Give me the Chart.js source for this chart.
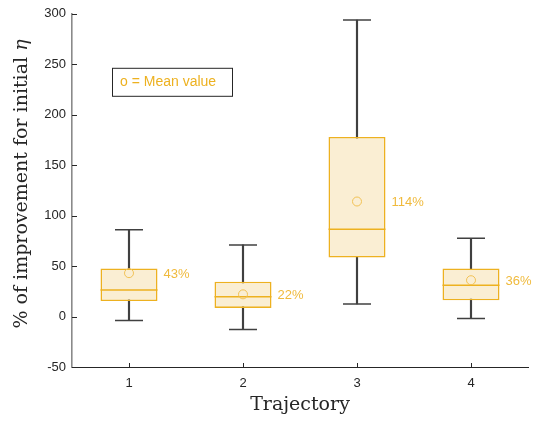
<!DOCTYPE html>
<html>
<head>
<meta charset="utf-8">
<script src="https://cdn.jsdelivr.net/npm/chart.js@4.4.0/dist/chart.umd.min.js"></script>
<style>
  html, body { margin: 0; padding: 0; background: #fff; }
  #wrap { width: 537px; height: 423px; }
</style>
</head>
<body>
<div id="wrap"><canvas id="boxChart"></canvas></div>
<script>
// values
const trajectories = ['1', '2', '3', '4'];
const whiskerLow  = [-4, -12.8, 12.4, -2];
const quartile1   = [15.4, 8.5, 58.5, 16.1];
const medians     = [26.3, 19.7, 86.4, 30.9];
const quartile3   = [47.6, 34.5, 178, 47.6];
const whiskerHigh = [86.1, 71, 293.8, 77.5];
const means       = [43, 22, 114, 36];
const yMin = -50, yMax = 300, yStep = 50;

const ORANGE = '#EDB120';
const DARK = '#404040';
const TEXT = '#262626';

// box plot bits that chart.js doesn't draw itself
const extras = {
  id: 'extras',
  afterDraw(chart) {
    const { ctx, chartArea, scales: { x, y } } = chart;
    ctx.save();

    // tick marks point inward like matlab
    ctx.strokeStyle = TEXT;
    ctx.lineWidth = 1;
    y.ticks.forEach((t, i) => {
      const py = Math.round(y.getPixelForTick(i)) + 0.5;
      ctx.beginPath();
      ctx.moveTo(chartArea.left, py);
      ctx.lineTo(chartArea.left + 5, py);
      ctx.stroke();
    });
    x.ticks.forEach((t, i) => {
      const px = Math.round(x.getPixelForTick(i)) + 0.5;
      ctx.beginPath();
      ctx.moveTo(px, chartArea.bottom);
      ctx.lineTo(px, chartArea.bottom - 4);
      ctx.stroke();
    });

    // mean percentages next to the boxes
    const boxes = chart.getDatasetMeta(1).data;
    ctx.fillStyle = '#F0BA3C';
    ctx.font = '13px "Liberation Sans", Arial, sans-serif';
    ctx.textAlign = 'left';
    ctx.textBaseline = 'middle';
    means.forEach((m, i) => {
      const px = boxes[i].x + boxes[i].width / 2 + 6;
      ctx.fillText(Math.round(m) + '%', px, y.getPixelForValue(m) + 1);
    });

    // "legend" box
    const lx = chartArea.left + 40, ly = chartArea.top + 54;
    ctx.fillStyle = '#fff';
    ctx.fillRect(lx, ly, 121, 28);
    ctx.strokeStyle = TEXT;
    ctx.strokeRect(lx + 0.5, ly + 0.5, 120, 28);
    ctx.fillStyle = ORANGE;
    ctx.font = '14px "Liberation Sans", Arial, sans-serif';
    ctx.fillText('o = Mean value', lx + 8, ly + 14.5);

    // axis titles (serif, latex-ish)
    ctx.fillStyle = TEXT;
    ctx.font = '19px "DejaVu Serif", serif';
    ctx.textAlign = 'center';
    ctx.fillText('Trajectory', (chartArea.left + chartArea.right) / 2, 405);

    ctx.translate(22, 184);
    ctx.rotate(-Math.PI / 2);
    const main = '% of improvement for initial ';
    const mainW = ctx.measureText(main).width;
    ctx.font = 'italic 19px "DejaVu Serif", serif';
    const etaW = ctx.measureText('η').width;
    const start = -(mainW + etaW) / 2;
    ctx.textAlign = 'left';
    ctx.fillText('η', start + mainW, 0);
    ctx.font = '19px "DejaVu Serif", serif';
    ctx.fillText(main, start, 0);

    ctx.restore();
  }
};

const ctx = document.getElementById('boxChart').getContext('2d');
new Chart(ctx, {
  type: 'bar',
  data: {
    labels: trajectories,
    datasets: [
      {
        // whisker stems
        data: whiskerLow.map((lo, i) => [lo, whiskerHigh[i]]),
        backgroundColor: DARK,
        barThickness: 1.5,
        grouped: false,
        order: 5
      },
      {
        // boxes q1..q3
        data: quartile1.map((q, i) => [q, quartile3[i]]),
        backgroundColor: '#FAEED3',
        borderColor: ORANGE,
        borderWidth: 1.6,
        borderSkipped: false,
        barPercentage: 0.5,
        categoryPercentage: 1,
        grouped: false,
        order: 4
      },
      {
        type: 'line',
        data: medians,
        showLine: false,
        pointStyle: 'line',
        pointRadius: 28.5,
        borderColor: ORANGE,
        borderWidth: 1.5,
        order: 3
      },
      {
        type: 'line',
        data: whiskerHigh,
        showLine: false,
        pointStyle: 'line',
        pointRadius: 14,
        borderColor: DARK,
        borderWidth: 1.5,
        order: 3
      },
      {
        type: 'line',
        data: whiskerLow,
        showLine: false,
        pointStyle: 'line',
        pointRadius: 14,
        borderColor: DARK,
        borderWidth: 1.5,
        order: 3
      },
      {
        type: 'line',
        data: means,
        showLine: false,
        pointStyle: 'circle',
        pointRadius: 4.5,
        backgroundColor: 'rgba(0,0,0,0)',
        borderColor: '#F2C255',
        borderWidth: 1,
        order: 2
      }
    ]
  },
  options: {
    responsive: true,
    maintainAspectRatio: false,
    animation: false,
    events: [],
    layout: { autoPadding: false, padding: { top: 12, right: 9, left: 0, bottom: 0 } },
    plugins: {
      legend: { display: false },
      tooltip: { enabled: false }
    },
    scales: {
      x: {
        offset: true,
        afterFit(scale) { scale.height = 56; },
        grid: { display: false, drawTicks: false },
        border: { display: true, color: TEXT, width: 1 },
        ticks: {
          color: TEXT,
          padding: 9,
          font: { family: '"Liberation Sans", Arial, sans-serif', size: 13 }
        }
      },
      y: {
        min: yMin,
        max: yMax,
        afterFit(scale) { scale.width = 72; },
        grid: { display: false, drawTicks: false },
        border: { display: true, color: '#8a8a8a', width: 1.6 },
        ticks: {
          stepSize: yStep,
          color: TEXT,
          padding: 6,
          font: { family: '"Liberation Sans", Arial, sans-serif', size: 13 }
        }
      }
    }
  },
  plugins: [extras]
});
</script>
</body>
</html>
